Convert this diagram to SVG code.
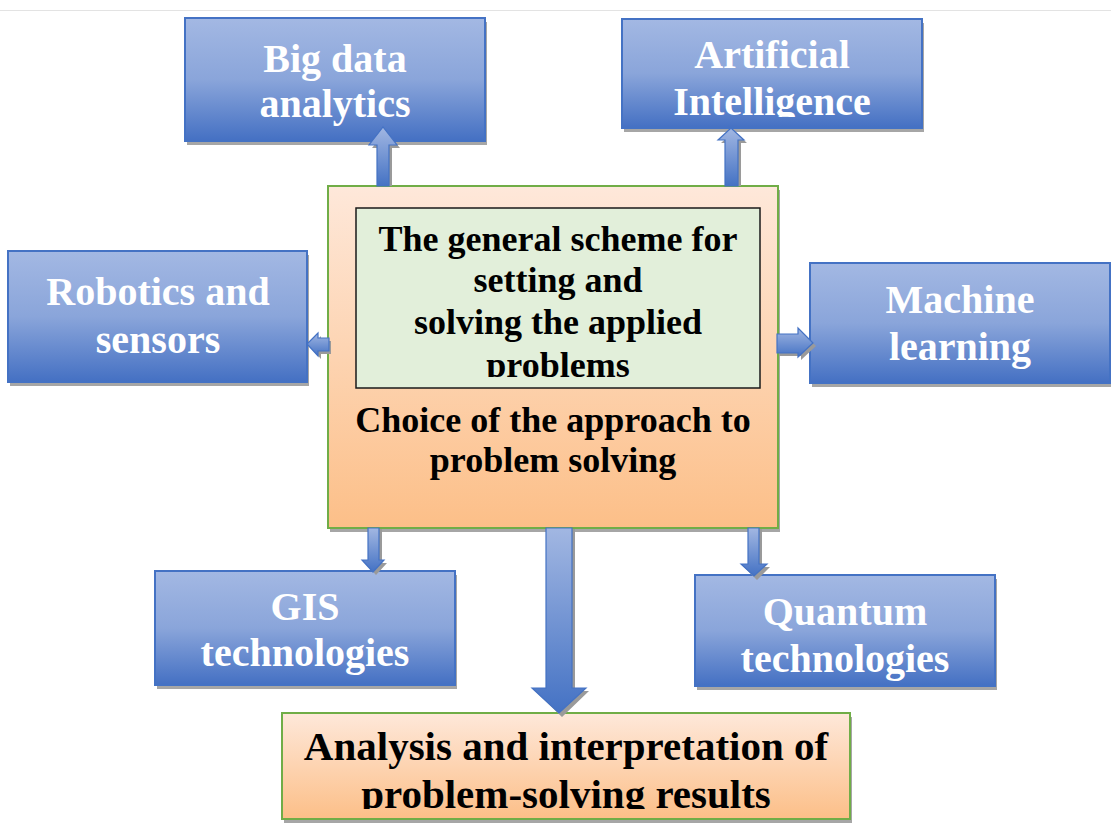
<svg xmlns="http://www.w3.org/2000/svg" width="1111" height="823" viewBox="0 0 1111 823">
<defs>
<linearGradient id="gBlue" x1="0" y1="0" x2="0" y2="1">
<stop offset="0" stop-color="#a3b8e3"/><stop offset="0.5" stop-color="#8aa5da"/><stop offset="1" stop-color="#4470c3"/>
</linearGradient>
<linearGradient id="gOrange" x1="0" y1="0" x2="0" y2="1">
<stop offset="0" stop-color="#fee8da"/><stop offset="1" stop-color="#fcbf88"/>
</linearGradient>
<linearGradient id="gArrV" x1="0" y1="0" x2="0" y2="1">
<stop offset="0" stop-color="#a2b7e2"/><stop offset="1" stop-color="#4472c4"/>
</linearGradient>
<linearGradient id="gArrUp" x1="0" y1="1" x2="0" y2="0">
<stop offset="0" stop-color="#4472c4"/><stop offset="1" stop-color="#a2b7e2"/>
</linearGradient>
<linearGradient id="gArrH" x1="0" y1="0" x2="0" y2="1">
<stop offset="0" stop-color="#a2b7e2"/><stop offset="1" stop-color="#4472c4"/>
</linearGradient>
<clipPath id="clipInner"><rect x="356" y="208" width="404" height="169"/></clipPath>
<clipPath id="clipAI"><rect x="622" y="19" width="300" height="98"/></clipPath>
<clipPath id="clipBottom"><rect x="282" y="713" width="568" height="96"/></clipPath>
</defs>
<style>
.shadow{fill:#a6a6a6}
.blue{fill:url(#gBlue);stroke:#4472c4;stroke-width:2}
.orange{fill:url(#gOrange);stroke:#70ad47;stroke-width:2}
.inner{fill:#e2efda;stroke:#1a1a1a;stroke-width:1.5}
.wt{font-family:"Liberation Serif","Times New Roman",serif;font-weight:bold;font-size:40px;fill:#ffffff;text-anchor:middle}
.bt{font-family:"Liberation Serif","Times New Roman",serif;font-weight:bold;font-size:36px;fill:#000000;text-anchor:middle}
.bt2{font-family:"Liberation Serif","Times New Roman",serif;font-weight:bold;font-size:41px;fill:#000000;text-anchor:middle}
.ashadow{fill:#9a9a9a}
.arrV{fill:url(#gArrV);stroke:#4472c4;stroke-width:1.2}
.arrU{fill:url(#gArrUp);stroke:#4472c4;stroke-width:1.2}
.arrH{fill:url(#gArrH);stroke:#4472c4;stroke-width:1.2}
</style>
<rect x="0" y="0" width="1111" height="823" fill="#ffffff"/>
<line x1="0" y1="10.5" x2="1111" y2="10.5" stroke="#e3e3e3" stroke-width="1"/>

<g id="big-data">
<rect class="shadow" x="187" y="22" width="300" height="123"/>
<rect class="blue" x="185" y="18" width="300" height="123"/>
<text class="wt" x="335" y="72">Big data</text>
<text class="wt" x="335" y="117">analytics</text>
</g>

<g id="artificial-intelligence">
<rect class="shadow" x="624" y="23" width="300" height="109"/>
<rect class="blue" x="622" y="19" width="300" height="109"/>
<g clip-path="url(#clipAI)">
<text class="wt" x="772" y="68">Artificial</text>
<text class="wt" x="772" y="115">Intelligence</text>
</g>
</g>

<g id="robotics">
<rect class="shadow" x="10" y="255" width="299" height="131"/>
<rect class="blue" x="8" y="251" width="299" height="131"/>
<text class="wt" x="158" y="305">Robotics and</text>
<text class="wt" x="158" y="353">sensors</text>
</g>

<g id="machine-learning">
<rect class="shadow" x="812" y="267" width="300" height="120"/>
<rect class="blue" x="810" y="263" width="300" height="120"/>
<text class="wt" x="960" y="313">Machine</text>
<text class="wt" x="960" y="360">learning</text>
</g>

<g id="gis">
<rect class="shadow" x="157" y="575" width="300" height="114"/>
<rect class="blue" x="155" y="571" width="300" height="114"/>
<text class="wt" x="305" y="620">GIS</text>
<text class="wt" x="305" y="666">technologies</text>
</g>

<g id="quantum">
<rect class="shadow" x="697" y="579" width="300" height="111"/>
<rect class="blue" x="695" y="575" width="300" height="111"/>
<text class="wt" x="845" y="625">Quantum</text>
<text class="wt" x="845" y="672">technologies</text>
</g>

<g id="center">
<rect class="shadow" x="330" y="190" width="450" height="342"/>
<rect class="orange" x="328" y="186" width="450" height="342"/>
<rect class="inner" x="356" y="208" width="404" height="180"/>
<g clip-path="url(#clipInner)">
<text class="bt" x="558" y="251">The general scheme for</text>
<text class="bt" x="558" y="292">setting and</text>
<text class="bt" x="558" y="334">solving the applied</text>
<text class="bt" x="558" y="377">problems</text>
</g>
<text class="bt" x="553" y="432">Choice of the approach to</text>
<text class="bt" x="553" y="472">problem solving</text>
</g>

<g id="analysis">
<rect class="shadow" x="284" y="717" width="568" height="106"/>
<rect class="orange" x="282" y="713" width="568" height="106"/>
<g clip-path="url(#clipBottom)">
<text class="bt2" x="566" y="760">Analysis and interpretation of</text>
<text class="bt2" x="566" y="808">problem-solving results</text>
</g>
</g>

<g id="connectors">
<!-- up to big data -->
<path class="ashadow" d="M380,186 V148 H372 L386,131 L400,148 H392 V186 Z"/>
<path class="arrU" d="M377,186 V145 H369 L383,127 L397,145 H389 V186 Z"/>
<!-- up to AI -->
<path class="ashadow" d="M728,186 V143 H721 L734,131 L747,143 H741 V186 Z"/>
<path class="arrU" d="M725,186 V140 H718 L731,128 L744,140 H738 V186 Z"/>
<!-- left to robotics -->
<path class="ashadow" d="M331,341 H321 V336 L310,347 L321,359 V354 H331 Z"/>
<path class="arrH" d="M329,338 H318 V333 L307,344 L318,356 V351 H329 Z"/>
<!-- right to machine learning -->
<path class="ashadow" d="M779,337 H801 V331 L816,346 L801,360 V356 H779 Z"/>
<path class="arrH" d="M777,334 H798 V328 L813,343 L798,357 V353 H777 Z"/>
<!-- down to GIS -->
<path class="ashadow" d="M371,529 V563 H365 L376,575 L387,563 H382 V529 Z"/>
<path class="arrV" d="M368,528 V560 H362 L373,572 L384,560 H379 V528 Z"/>
<!-- down to analysis -->
<path class="ashadow" d="M549,529 V691 H535 L562,717 L589,691 H575 V529 Z"/>
<path class="arrV" d="M546,528 V688 H532 L559,713 L586,688 H572 V528 Z"/>
<!-- down to quantum -->
<path class="ashadow" d="M751,529 V567 H744 L757,580 L770,567 H762 V529 Z"/>
<path class="arrV" d="M748,528 V564 H741 L754,576 L767,564 H759 V528 Z"/>
</g>
</svg>
